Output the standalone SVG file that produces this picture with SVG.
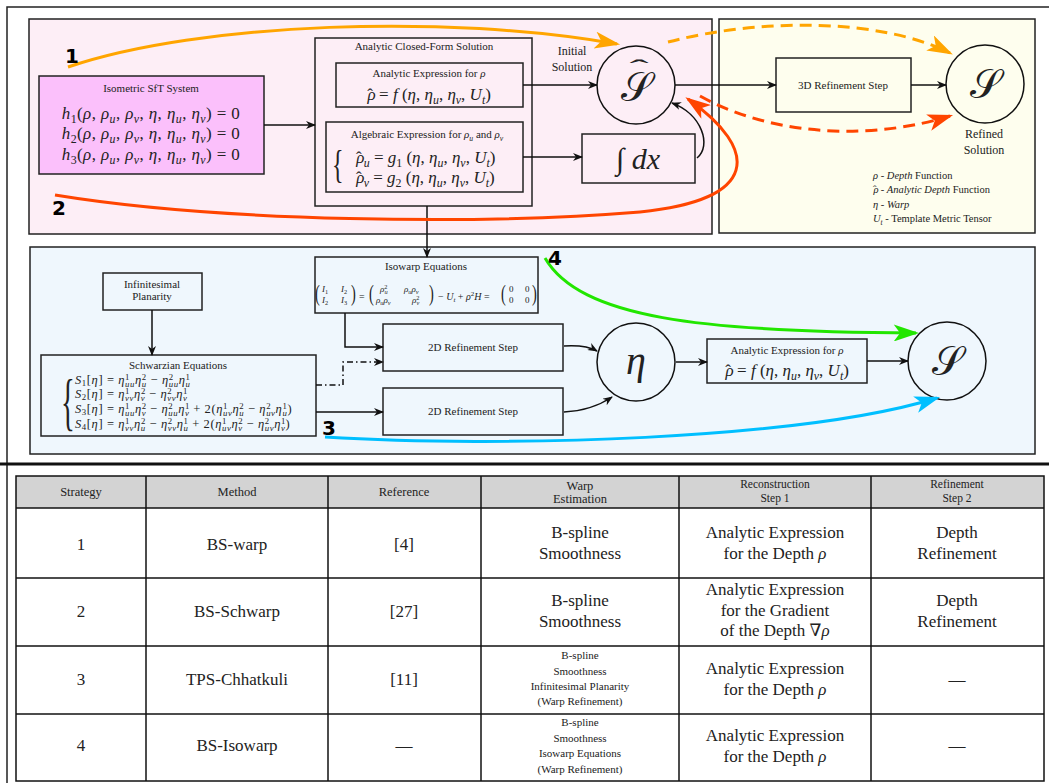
<svg xmlns="http://www.w3.org/2000/svg" width="1049" height="783" viewBox="0 0 1049 783" font-family="'Liberation Serif', 'Times New Roman', 'DejaVu Serif', serif">
<style>
  text { font-family: 'Liberation Serif', 'Times New Roman', 'DejaVu Serif', serif; fill: #222; }
  .i { font-style: italic; }
  .s11 { font-size: 11px; }
  .s12 { font-size: 12px; }
  .s16 { font-size: 17px; }
  .c { text-anchor: middle; }
  .sb { font-size: 70%; font-style: italic; }
  .sn { font-size: 70%; }
  .hat { font-style: normal; }
  .box { fill: none; stroke: #222; stroke-width: 1.5; }
  .ln { fill: none; stroke: #111; stroke-width: 1.5; }
  text.num { font-family: 'DejaVu Sans', sans-serif; font-weight: bold; font-size: 20px; fill: #000; }
  .tbl { fill: none; stroke: #111; stroke-width: 1.5; }
  .big { font-size: 40px; }
  .sw { font-size: 12.5px; letter-spacing: 0.6px; }
</style>
<defs>
  <marker id="ah" viewBox="0 0 10 8" refX="9" refY="4" markerWidth="11" markerHeight="8" markerUnits="userSpaceOnUse" orient="auto">
    <path d="M0,0 L10,4 L0,8 L3,4 z" fill="#111"/>
  </marker>
  <marker id="ahOrange" viewBox="0 0 24 16" refX="21" refY="8" markerWidth="26" markerHeight="17" markerUnits="userSpaceOnUse" orient="auto">
    <path d="M0,0 L24,8 L0,16 L6,8 z" fill="#ffa500"/>
  </marker>
  <marker id="ahRed" viewBox="0 0 24 16" refX="21" refY="8" markerWidth="26" markerHeight="17" markerUnits="userSpaceOnUse" orient="auto">
    <path d="M0,0 L24,8 L0,16 L6,8 z" fill="#ff4500"/>
  </marker>
  <marker id="ahCyan" viewBox="0 0 24 16" refX="21" refY="8" markerWidth="26" markerHeight="17" markerUnits="userSpaceOnUse" orient="auto">
    <path d="M0,0 L24,8 L0,16 L6,8 z" fill="#00bfff"/>
  </marker>
  <marker id="ahGreen" viewBox="0 0 24 16" refX="21" refY="8" markerWidth="26" markerHeight="17" markerUnits="userSpaceOnUse" orient="auto">
    <path d="M0,0 L24,8 L0,16 L6,8 z" fill="#22e600"/>
  </marker>
</defs>

<rect width="1049" height="783" fill="#ffffff"/>

<!-- outer frame and divider -->
<rect x="7" y="7" width="1060" height="800" fill="none" stroke="#222" stroke-width="1.5"/>
<line x1="0" y1="464" x2="1049" y2="464" stroke="#111" stroke-width="3"/>

<!-- panels -->
<g id="panels">
  <rect x="29" y="19" width="683" height="215" fill="#fdeef6" stroke="#222" stroke-width="1.5"/>
  <rect x="719" y="19" width="316" height="214" fill="#fefeee" stroke="#222" stroke-width="1.5"/>
  <rect x="30" y="247" width="1005" height="207" fill="#eff7fd" stroke="#222" stroke-width="1.5"/>
</g>

<!-- nodes -->
<g id="isometric-sft">
  <rect x="39" y="76" width="225" height="98" fill="#fbc0fb" stroke="#222" stroke-width="1.5"/>
  <text x="151" y="92" class="s11 c">Isometric SfT System</text>
  <text x="151" y="119" class="s16 c" letter-spacing="0.4"><tspan class="i">h</tspan><tspan class="sn" dy="4">1</tspan><tspan dy="-4">(</tspan><tspan class="i">ρ</tspan>, <tspan class="i">ρ</tspan><tspan class="sb" dy="4">u</tspan><tspan dy="-4">, </tspan><tspan class="i">ρ</tspan><tspan class="sb" dy="4">v</tspan><tspan dy="-4">, </tspan><tspan class="i">η</tspan>, <tspan class="i">η</tspan><tspan class="sb" dy="4">u</tspan><tspan dy="-4">, </tspan><tspan class="i">η</tspan><tspan class="sb" dy="4">v</tspan><tspan dy="-4">) = 0</tspan></text>
  <text x="151" y="139" class="s16 c" letter-spacing="0.4"><tspan class="i">h</tspan><tspan class="sn" dy="4">2</tspan><tspan dy="-4">(</tspan><tspan class="i">ρ</tspan>, <tspan class="i">ρ</tspan><tspan class="sb" dy="4">u</tspan><tspan dy="-4">, </tspan><tspan class="i">ρ</tspan><tspan class="sb" dy="4">v</tspan><tspan dy="-4">, </tspan><tspan class="i">η</tspan>, <tspan class="i">η</tspan><tspan class="sb" dy="4">u</tspan><tspan dy="-4">, </tspan><tspan class="i">η</tspan><tspan class="sb" dy="4">v</tspan><tspan dy="-4">) = 0</tspan></text>
  <text x="151" y="160" class="s16 c" letter-spacing="0.4"><tspan class="i">h</tspan><tspan class="sn" dy="4">3</tspan><tspan dy="-4">(</tspan><tspan class="i">ρ</tspan>, <tspan class="i">ρ</tspan><tspan class="sb" dy="4">u</tspan><tspan dy="-4">, </tspan><tspan class="i">ρ</tspan><tspan class="sb" dy="4">v</tspan><tspan dy="-4">, </tspan><tspan class="i">η</tspan>, <tspan class="i">η</tspan><tspan class="sb" dy="4">u</tspan><tspan dy="-4">, </tspan><tspan class="i">η</tspan><tspan class="sb" dy="4">v</tspan><tspan dy="-4">) = 0</tspan></text>
</g>

<g id="closed-form">
  <rect x="315" y="38" width="217" height="168" class="box"/>
  <text x="424" y="50" class="s11 c">Analytic Closed-Form Solution</text>
</g>

<g id="analytic-rho">
  <rect x="336" y="63" width="187" height="44" class="box"/>
  <text x="429" y="77" class="s11 c">Analytic Expression for <tspan class="i">ρ</tspan></text>
  <text x="429" y="100" class="s16 c"><tspan class="i">ρ</tspan><tspan class="hat" dx="-8.5">ˆ</tspan><tspan dx="2"> = </tspan><tspan class="i">f</tspan> (<tspan class="i">η</tspan>, <tspan class="i">η</tspan><tspan class="sb" dy="4">u</tspan><tspan dy="-4">, </tspan><tspan class="i">η</tspan><tspan class="sb" dy="4">v</tspan><tspan dy="-4">, </tspan><tspan class="i">U</tspan><tspan class="sb" dy="4">t</tspan><tspan dy="-4">)</tspan></text>
</g>

<g id="algebraic-grad">
  <rect x="326" y="122" width="197" height="70" class="box"/>
  <text x="427" y="138" class="s11 c">Algebraic Expression for <tspan class="i">ρ</tspan><tspan class="sb" dy="3">u</tspan><tspan dy="-3"> and </tspan><tspan class="i">ρ</tspan><tspan class="sb" dy="3">v</tspan></text>
  <text transform="translate(332,178) scale(0.6,1)" font-size="40">{</text>
  <text x="356" y="163" class="s16"><tspan class="i">ρ</tspan><tspan class="hat" dx="-8.5">ˆ</tspan><tspan class="sb" dx="2" dy="4">u</tspan><tspan dy="-4"> = </tspan><tspan class="i">g</tspan><tspan class="sn" dy="4">1</tspan><tspan dy="-4"> (</tspan><tspan class="i">η</tspan>, <tspan class="i">η</tspan><tspan class="sb" dy="4">u</tspan><tspan dy="-4">, </tspan><tspan class="i">η</tspan><tspan class="sb" dy="4">v</tspan><tspan dy="-4">, </tspan><tspan class="i">U</tspan><tspan class="sb" dy="4">t</tspan><tspan dy="-4">)</tspan></text>
  <text x="356" y="183" class="s16"><tspan class="i">ρ</tspan><tspan class="hat" dx="-8.5">ˆ</tspan><tspan class="sb" dx="2" dy="4">v</tspan><tspan dy="-4"> = </tspan><tspan class="i">g</tspan><tspan class="sn" dy="4">2</tspan><tspan dy="-4"> (</tspan><tspan class="i">η</tspan>, <tspan class="i">η</tspan><tspan class="sb" dy="4">u</tspan><tspan dy="-4">, </tspan><tspan class="i">η</tspan><tspan class="sb" dy="4">v</tspan><tspan dy="-4">, </tspan><tspan class="i">U</tspan><tspan class="sb" dy="4">t</tspan><tspan dy="-4">)</tspan></text>
</g>

<g id="initial-solution">
  <circle cx="636" cy="85" r="39" fill="none" stroke="#111" stroke-width="1.5"/>
  <text x="636" y="101" class="big c">𝒮</text>
  <text transform="translate(639,76) scale(2.4,1)" font-size="24" class="c">ˆ</text>
  <text x="572" y="55" class="s12 c">Initial</text>
  <text x="572" y="71" class="s12 c">Solution</text>
</g>

<g id="integral">
  <rect x="582" y="134" width="113" height="49" class="box"/>
  <text x="638" y="169" font-size="30" class="c">∫ <tspan class="i">dx</tspan></text>
</g>

<g id="refine-3d">
  <rect x="776" y="58" width="135" height="54" class="box"/>
  <text x="843" y="89" class="s11 c">3D Refinement Step</text>
</g>

<g id="refined-solution">
  <circle cx="985" cy="84" r="39" fill="none" stroke="#111" stroke-width="1.5"/>
  <text x="985" y="98" class="big c">𝒮</text>
  <text x="984" y="138" class="s12 c">Refined</text>
  <text x="984" y="154" class="s12 c">Solution</text>
</g>

<g id="legend">
  <text x="873" y="179" font-size="10.5"><tspan class="i">ρ</tspan> - <tspan class="i">Depth</tspan> Function</text>
  <text x="873" y="193" font-size="10.5"><tspan class="i">ρ</tspan><tspan class="hat" dx="-5.5">ˆ</tspan><tspan dx="1.5"> - </tspan><tspan class="i">Analytic Depth</tspan> Function</text>
  <text x="873" y="208" font-size="10.5"><tspan class="i">η</tspan> - <tspan class="i">Warp</tspan></text>
  <text x="873" y="222" font-size="10.5"><tspan class="i">U</tspan><tspan class="sb" dy="3">t</tspan><tspan dy="-3"> - Template Metric Tensor</tspan></text>
</g>

<g id="isowarp">
  <rect x="315" y="257" width="223" height="56" class="box"/>
  <text x="426" y="270" class="s11 c">Isowarp Equations</text>
  <g font-size="9">
    <text font-size="24" transform="translate(315,301) scale(0.6,1)">(</text>
    <text x="322" y="292" font-size="9"><tspan class="i">I</tspan><tspan class="sn" dy="2">1</tspan></text>
    <text x="322" y="303" font-size="9"><tspan class="i">I</tspan><tspan class="sn" dy="2">2</tspan></text>
    <text x="341" y="292" font-size="9"><tspan class="i">I</tspan><tspan class="sn" dy="2">2</tspan></text>
    <text x="341" y="303" font-size="9"><tspan class="i">I</tspan><tspan class="sn" dy="2">3</tspan></text>
    <text font-size="24" transform="translate(351,301) scale(0.6,1)">)</text>
    <text x="359" y="300" font-size="10">=</text>
    <text font-size="24" transform="translate(369,301) scale(0.6,1)">(</text>
    <text x="380" y="292" font-size="9"><tspan class="i">ρ</tspan><tspan class="sn" dy="-3">2</tspan><tspan class="sb" dx="-3" dy="5">u</tspan></text>
    <text x="404" y="292" font-size="9"><tspan class="i">ρ</tspan><tspan class="sb" dy="2">u</tspan><tspan class="i" dy="-2">ρ</tspan><tspan class="sb" dy="2">v</tspan></text>
    <text x="376" y="303" font-size="9"><tspan class="i">ρ</tspan><tspan class="sb" dy="2">u</tspan><tspan class="i" dy="-2">ρ</tspan><tspan class="sb" dy="2">v</tspan></text>
    <text x="412" y="303" font-size="9"><tspan class="i">ρ</tspan><tspan class="sn" dy="-3">2</tspan><tspan class="sb" dx="-3" dy="5">v</tspan></text>
    <text font-size="24" transform="translate(429,301) scale(0.6,1)">)</text>
    <text x="438" y="300" font-size="10">− <tspan class="i">U</tspan><tspan class="sb" dy="2">t</tspan><tspan dy="-2"> + </tspan><tspan class="i">ρ</tspan><tspan class="sn" dy="-4">2</tspan><tspan class="i" dy="4">H</tspan> =</text>
    <text font-size="24" transform="translate(501,301) scale(0.6,1)">(</text>
    <text x="509" y="292" font-size="9">0</text>
    <text x="525" y="292" font-size="9">0</text>
    <text x="509" y="303" font-size="9">0</text>
    <text x="525" y="303" font-size="9">0</text>
    <text font-size="24" transform="translate(532,301) scale(0.6,1)">)</text>
  </g>
</g>

<g id="planarity">
  <rect x="103" y="273" width="99" height="37" class="box"/>
  <text x="152" y="288" class="s11 c">Infinitesimal</text>
  <text x="152" y="300" class="s11 c">Planarity</text>
</g>

<g id="schwarzian">
  <rect x="41" y="355" width="275" height="81" class="box"/>
  <text x="178" y="369" class="s11 c">Schwarzian Equations</text>
  <text transform="translate(61,423) scale(0.45,1)" font-size="64">{</text>
  <text x="75" y="384" class="sw"><tspan class="i">S</tspan><tspan class="sn" dy="2">1</tspan><tspan dy="-2">[</tspan><tspan class="i">η</tspan>] = <tspan class="i">η</tspan><tspan class="sn" dy="-4">1</tspan><tspan class="sb" dx="-5" dy="7">uu</tspan><tspan class="i" dy="-3">η</tspan><tspan class="sn" dy="-4">2</tspan><tspan class="sb" dx="-5" dy="7">u</tspan><tspan dy="-3"> − </tspan><tspan class="i">η</tspan><tspan class="sn" dy="-4">2</tspan><tspan class="sb" dx="-5" dy="7">uu</tspan><tspan class="i" dy="-3">η</tspan><tspan class="sn" dy="-4">1</tspan><tspan class="sb" dx="-5" dy="7">u</tspan></text>
  <text x="75" y="398" class="sw"><tspan class="i">S</tspan><tspan class="sn" dy="2">2</tspan><tspan dy="-2">[</tspan><tspan class="i">η</tspan>] = <tspan class="i">η</tspan><tspan class="sn" dy="-4">1</tspan><tspan class="sb" dx="-5" dy="7">vv</tspan><tspan class="i" dy="-3">η</tspan><tspan class="sn" dy="-4">2</tspan><tspan class="sb" dx="-5" dy="7">v</tspan><tspan dy="-3"> − </tspan><tspan class="i">η</tspan><tspan class="sn" dy="-4">2</tspan><tspan class="sb" dx="-5" dy="7">vv</tspan><tspan class="i" dy="-3">η</tspan><tspan class="sn" dy="-4">1</tspan><tspan class="sb" dx="-5" dy="7">v</tspan></text>
  <text x="75" y="413" class="sw"><tspan class="i">S</tspan><tspan class="sn" dy="2">3</tspan><tspan dy="-2">[</tspan><tspan class="i">η</tspan>] = <tspan class="i">η</tspan><tspan class="sn" dy="-4">1</tspan><tspan class="sb" dx="-5" dy="7">uu</tspan><tspan class="i" dy="-3">η</tspan><tspan class="sn" dy="-4">2</tspan><tspan class="sb" dx="-5" dy="7">v</tspan><tspan dy="-3"> − </tspan><tspan class="i">η</tspan><tspan class="sn" dy="-4">2</tspan><tspan class="sb" dx="-5" dy="7">uu</tspan><tspan class="i" dy="-3">η</tspan><tspan class="sn" dy="-4">1</tspan><tspan class="sb" dx="-5" dy="7">v</tspan><tspan dy="-3"> + 2(</tspan><tspan class="i">η</tspan><tspan class="sn" dy="-4">1</tspan><tspan class="sb" dx="-5" dy="7">uv</tspan><tspan class="i" dy="-3">η</tspan><tspan class="sn" dy="-4">2</tspan><tspan class="sb" dx="-5" dy="7">u</tspan><tspan dy="-3"> − </tspan><tspan class="i">η</tspan><tspan class="sn" dy="-4">2</tspan><tspan class="sb" dx="-5" dy="7">uv</tspan><tspan class="i" dy="-3">η</tspan><tspan class="sn" dy="-4">1</tspan><tspan class="sb" dx="-5" dy="7">u</tspan><tspan dy="-3">)</tspan></text>
  <text x="75" y="428" class="sw"><tspan class="i">S</tspan><tspan class="sn" dy="2">4</tspan><tspan dy="-2">[</tspan><tspan class="i">η</tspan>] = <tspan class="i">η</tspan><tspan class="sn" dy="-4">1</tspan><tspan class="sb" dx="-5" dy="7">vv</tspan><tspan class="i" dy="-3">η</tspan><tspan class="sn" dy="-4">2</tspan><tspan class="sb" dx="-5" dy="7">u</tspan><tspan dy="-3"> − </tspan><tspan class="i">η</tspan><tspan class="sn" dy="-4">2</tspan><tspan class="sb" dx="-5" dy="7">vv</tspan><tspan class="i" dy="-3">η</tspan><tspan class="sn" dy="-4">1</tspan><tspan class="sb" dx="-5" dy="7">u</tspan><tspan dy="-3"> + 2(</tspan><tspan class="i">η</tspan><tspan class="sn" dy="-4">1</tspan><tspan class="sb" dx="-5" dy="7">uv</tspan><tspan class="i" dy="-3">η</tspan><tspan class="sn" dy="-4">2</tspan><tspan class="sb" dx="-5" dy="7">v</tspan><tspan dy="-3"> − </tspan><tspan class="i">η</tspan><tspan class="sn" dy="-4">2</tspan><tspan class="sb" dx="-5" dy="7">uv</tspan><tspan class="i" dy="-3">η</tspan><tspan class="sn" dy="-4">1</tspan><tspan class="sb" dx="-5" dy="7">v</tspan><tspan dy="-3">)</tspan></text>
</g>

<g id="refine-2d-a">
  <rect x="383" y="324" width="180" height="47" class="box"/>
  <text x="473" y="351" class="s11 c">2D Refinement Step</text>
</g>

<g id="refine-2d-b">
  <rect x="383" y="388" width="180" height="47" class="box"/>
  <text x="473" y="415" class="s11 c">2D Refinement Step</text>
</g>

<g id="warp">
  <circle cx="636" cy="362" r="39" fill="none" stroke="#111" stroke-width="1.5"/>
  <text x="636" y="374" class="big i c">η</text>
</g>

<g id="analytic-rho-2">
  <rect x="707" y="339" width="160" height="44" class="box"/>
  <text x="787" y="354" class="s11 c">Analytic Expression for <tspan class="i">ρ</tspan></text>
  <text x="787" y="376" class="s16 c"><tspan class="i">ρ</tspan><tspan class="hat" dx="-8.5">ˆ</tspan><tspan dx="2"> = </tspan><tspan class="i">f</tspan> (<tspan class="i">η</tspan>, <tspan class="i">η</tspan><tspan class="sb" dy="4">u</tspan><tspan dy="-4">, </tspan><tspan class="i">η</tspan><tspan class="sb" dy="4">v</tspan><tspan dy="-4">, </tspan><tspan class="i">U</tspan><tspan class="sb" dy="4">t</tspan><tspan dy="-4">)</tspan></text>
</g>

<g id="surface">
  <circle cx="947" cy="361" r="39" fill="none" stroke="#111" stroke-width="1.5"/>
  <text x="947" y="375" class="big c">𝒮</text>
</g>

<!-- connectors -->
<g id="connectors">
  <path class="ln" d="M264,125 L315,125" marker-end="url(#ah)"/>
  <path class="ln" d="M523,85 L597,85" marker-end="url(#ah)"/>
  <path class="ln" d="M523,157 L582,157" marker-end="url(#ah)"/>
  <path class="ln" d="M697,158 C712,146 702,114 672,103" marker-end="url(#ah)"/>
  <path class="ln" d="M675,85 L776,85" marker-end="url(#ah)"/>
  <path class="ln" d="M911,85 L946,85" marker-end="url(#ah)"/>
  <path class="ln" d="M427,206 L427,257" marker-end="url(#ah)"/>
  <path class="ln" d="M152,310 L152,355" marker-end="url(#ah)"/>
  <path class="ln" d="M345,313 L345,347 L383,347" marker-end="url(#ah)"/>
  <path class="ln" d="M316,385 L343,385 L343,362 L383,362" stroke-dasharray="6,3,1.5,3" marker-end="url(#ah)"/>
  <path class="ln" d="M316,412 L383,412" marker-end="url(#ah)"/>
  <path class="ln" d="M564,346 C580,345 590,347 597,351" marker-end="url(#ah)"/>
  <path class="ln" d="M564,412 C585,411 600,405 612,397" marker-end="url(#ah)"/>
  <path class="ln" d="M676,362 L707,362" marker-end="url(#ah)"/>
  <path class="ln" d="M867,361 L908,361" marker-end="url(#ah)"/>

  <!-- strategy paths -->
  <path d="M68,67 C200,22 450,14 617,44" fill="none" stroke="#ffa500" stroke-width="3" marker-end="url(#ahOrange)"/>
  <path d="M668,42 C760,18 880,18 950,53" fill="none" stroke="#ffa500" stroke-width="3" stroke-dasharray="12,7" marker-end="url(#ahOrange)"/>
  <path d="M55,195 C220,222 480,225 640,212 C760,200 760,150 688,99" fill="none" stroke="#ff4500" stroke-width="3" marker-end="url(#ahRed)"/>
  <path d="M700,96 C780,140 880,138 950,116" fill="none" stroke="#ff4500" stroke-width="3" stroke-dasharray="12,7" marker-end="url(#ahRed)"/>
  <path d="M325,437 C500,448 800,440 937,398" fill="none" stroke="#00bfff" stroke-width="3" marker-end="url(#ahCyan)"/>
  <path d="M545,258 C580,318 700,332 916,333" fill="none" stroke="#22e600" stroke-width="3" marker-end="url(#ahGreen)"/>

  <text x="65" y="63" class="num">1</text>
  <text x="52" y="215" class="num">2</text>
  <text x="322" y="435" class="num">3</text>
  <text x="548" y="265" class="num">4</text>
</g>

<!-- strategy table -->
<g id="table">
  <rect x="16" y="476" width="1028" height="32" fill="#d3d3d3"/>
  <rect x="16" y="476" width="1028" height="305" class="tbl"/>
  <line x1="16" y1="508" x2="1044" y2="508" class="tbl"/>
  <line x1="16" y1="578" x2="1044" y2="578" class="tbl"/>
  <line x1="16" y1="646" x2="1044" y2="646" class="tbl"/>
  <line x1="16" y1="714" x2="1044" y2="714" class="tbl"/>
  <line x1="146" y1="476" x2="146" y2="781" class="tbl"/>
  <line x1="328" y1="476" x2="328" y2="781" class="tbl"/>
  <line x1="481" y1="476" x2="481" y2="781" class="tbl"/>
  <line x1="679" y1="476" x2="679" y2="781" class="tbl"/>
  <line x1="871" y1="476" x2="871" y2="781" class="tbl"/>

  <g>
    <text x="81" y="496" class="c" font-size="12.5">Strategy</text>
    <text x="237" y="496" class="c" font-size="12.5">Method</text>
    <text x="404" y="496" class="c" font-size="12.5">Reference</text>
    <text x="580" y="490" class="c" font-size="12.5">Warp</text>
    <text x="580" y="503" class="c" font-size="12.5">Estimation</text>
    <text x="775" y="488" class="c" font-size="11.5">Reconstruction</text>
    <text x="775" y="502" class="c" font-size="11.5">Step 1</text>
    <text x="957" y="488" class="c" font-size="11.5">Refinement</text>
    <text x="957" y="502" class="c" font-size="11.5">Step 2</text>
  </g>

  <g>
    <text x="81" y="550" class="c s16">1</text>
    <text x="237" y="550" class="c s16">BS-warp</text>
    <text x="404" y="550" class="c s16">[4]</text>
    <text x="580" y="538" class="c s16">B-spline</text>
    <text x="580" y="559" class="c s16">Smoothness</text>
    <text x="775" y="538" class="c s16">Analytic Expression</text>
    <text x="775" y="559" class="c s16">for the Depth <tspan class="i">ρ</tspan></text>
    <text x="957" y="538" class="c s16">Depth</text>
    <text x="957" y="559" class="c s16">Refinement</text>

    <text x="81" y="617" class="c s16">2</text>
    <text x="237" y="617" class="c s16">BS-Schwarp</text>
    <text x="404" y="617" class="c s16">[27]</text>
    <text x="580" y="606" class="c s16">B-spline</text>
    <text x="580" y="627" class="c s16">Smoothness</text>
    <text x="775" y="595" class="c s16">Analytic Expression</text>
    <text x="775" y="616" class="c s16">for the Gradient</text>
    <text x="775" y="636" class="c s16">of the Depth ∇<tspan class="i">ρ</tspan></text>
    <text x="957" y="606" class="c s16">Depth</text>
    <text x="957" y="627" class="c s16">Refinement</text>

    <text x="81" y="685" class="c s16">3</text>
    <text x="237" y="685" class="c s16">TPS-Chhatkuli</text>
    <text x="404" y="685" class="c s16">[11]</text>
    <text x="580" y="659" class="c s11">B-spline</text>
    <text x="580" y="675" class="c s11">Smoothness</text>
    <text x="580" y="690" class="c s11">Infinitesimal Planarity</text>
    <text x="580" y="705" class="c s11">(Warp Refinement)</text>
    <text x="775" y="674" class="c s16">Analytic Expression</text>
    <text x="775" y="695" class="c s16">for the Depth <tspan class="i">ρ</tspan></text>
    <text x="957" y="685" class="c s16">—</text>

    <text x="81" y="751" class="c s16">4</text>
    <text x="237" y="751" class="c s16">BS-Isowarp</text>
    <text x="404" y="751" class="c s16">—</text>
    <text x="580" y="726" class="c s11">B-spline</text>
    <text x="580" y="742" class="c s11">Smoothness</text>
    <text x="580" y="757" class="c s11">Isowarp Equations</text>
    <text x="580" y="773" class="c s11">(Warp Refinement)</text>
    <text x="775" y="741" class="c s16">Analytic Expression</text>
    <text x="775" y="762" class="c s16">for the Depth <tspan class="i">ρ</tspan></text>
    <text x="957" y="751" class="c s16">—</text>
  </g>
</g>
</svg>
